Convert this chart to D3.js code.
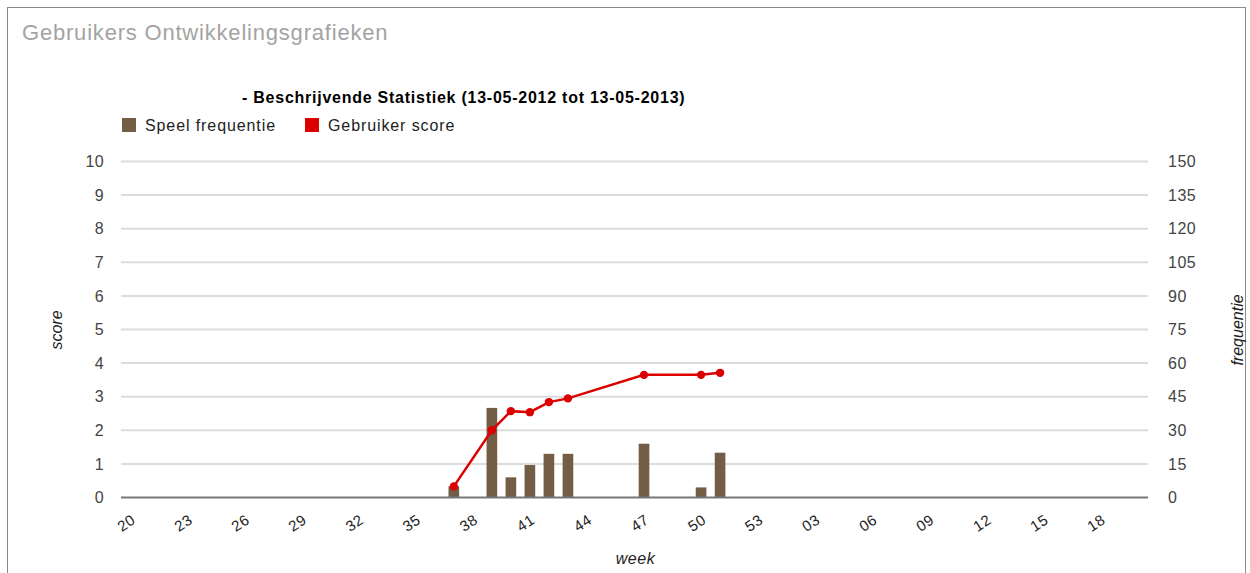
<!DOCTYPE html>
<html>
<head>
<meta charset="utf-8">
<script src="https://cdn.jsdelivr.net/npm/d3@7"></script>
<style>
  html, body { margin: 0; padding: 0; background: #fff; }
  svg { display: block; font-family: "Liberation Sans", Arial, sans-serif; }
</style>
</head>
<body>
<svg id="chart" width="1250" height="573"></svg>
<script>
// ---- data ----
const categories = ["20","21","22","23","24","25","26","27","28","29","30","31","32","33","34","35","36","37","38","39","40","41","42","43","44","45","46","47","48","49","50","51","52","53","01","02","03","04","05","06","07","08","09","10","11","12","13","14","15","16","17","18","19","20b"];
const tickLabels = ["20","23","26","29","32","35","38","41","44","47","50","53","03","06","09","12","15","18"];
const dataWeeks = ["37","39","40","41","42","43","47","50","51"];
const frequency = [5, 40, 9, 14.5, 19.5, 19.5, 24, 4.5, 20];
const score = [0.33, 2.0, 2.57, 2.54, 2.84, 2.95, 3.65, 3.65, 3.71];
const scoreTicks = [0,1,2,3,4,5,6,7,8,9,10];
const freqTicks = [0,15,30,45,60,75,90,105,120,135,150];

const title = "Gebruikers Ontwikkelingsgrafieken";
const subtitle = "- Beschrijvende Statistiek (13-05-2012 tot 13-05-2013)";
const seriesNames = ["Speel frequentie", "Gebruiker score"];
const colors = { bar: "#735d45", line: "#dc0000" };

// ---- layout ----
const svg = d3.select("#chart");
const plot = { left: 121, right: 1148, top: 161.5, bottom: 497.5 };

const x = d3.scaleBand().domain(categories).range([plot.left, plot.right])
  .paddingInner(0.44).paddingOuter(0.22);
const bw = x.bandwidth();
const cx = w => x(w) + bw / 2;
const yL = d3.scaleLinear().domain([0, 10]).range([plot.bottom, plot.top]);
const yR = d3.scaleLinear().domain([0, 150]).range([plot.bottom, plot.top]);

// frame
svg.append("rect").attr("x", 7.5).attr("y", 7.5).attr("width", 1238).attr("height", 600)
  .attr("fill", "none").attr("stroke", "#8a8a8a").attr("stroke-width", 1);

// title
svg.append("text").attr("x", 22).attr("y", 40).attr("fill", "#a3a3a3")
  .style("font-size", "22px").style("letter-spacing", "0.8px").text(title);

svg.append("text").attr("x", 242).attr("y", 103).attr("fill", "#000")
  .style("font-size", "16px").style("font-weight", "bold").style("letter-spacing", "0.75px")
  .text(subtitle);

// legend
const legend = svg.append("g");
const legX = [122, 305];
seriesNames.forEach((n, i) => {
  legend.append("rect").attr("x", legX[i]).attr("y", 118).attr("width", 14).attr("height", 14)
    .attr("fill", i === 0 ? colors.bar : colors.line);
  legend.append("text").attr("x", legX[i] + 23).attr("y", 131).attr("fill", "#222")
    .style("font-size", "16px").style("letter-spacing", "0.9px").text(n);
});

// gridlines
svg.append("g").selectAll("line").data(scoreTicks.filter(d => d !== 0)).join("line")
  .attr("x1", plot.left).attr("x2", plot.right)
  .attr("y1", d => yL(d)).attr("y2", d => yL(d))
  .attr("stroke", "#dcdcdc").attr("stroke-width", 2);

// left axis
const leftAxis = svg.append("g").attr("transform", `translate(${plot.left},0)`)
  .call(d3.axisLeft(yL).tickValues(scoreTicks).tickSize(0).tickPadding(17));
leftAxis.select(".domain").remove();
leftAxis.selectAll("text").attr("fill", "#444").style("font-size", "16px")
  .style("letter-spacing", "0.4px")
  .style("font-family", "'Liberation Sans', Arial, sans-serif");

// right axis
const rightAxis = svg.append("g").attr("transform", `translate(${plot.right},0)`)
  .call(d3.axisRight(yR).tickValues(freqTicks).tickSize(0).tickPadding(20));
rightAxis.select(".domain").remove();
rightAxis.selectAll("text").attr("fill", "#444").style("font-size", "16px")
  .style("letter-spacing", "0.5px")
  .style("font-family", "'Liberation Sans', Arial, sans-serif");

// bars
svg.append("g").selectAll("rect").data(dataWeeks).join("rect")
  .attr("x", w => x(w)).attr("width", bw)
  .attr("y", (w, i) => yR(frequency[i]))
  .attr("height", (w, i) => plot.bottom - yR(frequency[i]))
  .attr("fill", colors.bar);

// baseline
svg.append("line").attr("x1", plot.left).attr("x2", plot.right)
  .attr("y1", plot.bottom).attr("y2", plot.bottom)
  .attr("stroke", "#777").attr("stroke-width", 2);

// line
const pts = dataWeeks.map((w, i) => [cx(w), yL(score[i])]);
svg.append("path").attr("d", d3.line()(pts)).attr("fill", "none")
  .attr("stroke", colors.line).attr("stroke-width", 2.5);
svg.append("g").selectAll("circle").data(pts).join("circle")
  .attr("cx", d => d[0]).attr("cy", d => d[1]).attr("r", 4.2).attr("fill", colors.line);

// x axis labels
const xAxis = svg.append("g").attr("transform", `translate(0,${plot.bottom})`)
  .call(d3.axisBottom(x).tickValues(tickLabels).tickSize(0).tickFormat(d => d));
xAxis.select(".domain").remove();
xAxis.selectAll("text")
  .attr("fill", "#222").style("font-size", "15px").style("letter-spacing", "0.5px")
  .style("font-family", "'Liberation Sans', Arial, sans-serif")
  .attr("text-anchor", "end").attr("dy", null).attr("y", 0)
  .attr("transform", "translate(6,25) rotate(-33)");

// axis titles
svg.append("text").attr("transform", "translate(62,330) rotate(-90)")
  .attr("text-anchor", "middle").attr("fill", "#222").style("font-style", "italic")
  .style("font-size", "16px").text("score");
svg.append("text").attr("transform", "translate(1243,330) rotate(-90)")
  .attr("text-anchor", "middle").attr("fill", "#222").style("font-style", "italic")
  .style("font-size", "16px").text("frequentie");
svg.append("text").attr("x", (plot.left + plot.right) / 2 + 1).attr("y", 564)
  .attr("text-anchor", "middle").attr("fill", "#222").style("font-style", "italic")
  .style("font-size", "16px").style("letter-spacing", "0.5px").text("week");
</script>
</body>
</html>
